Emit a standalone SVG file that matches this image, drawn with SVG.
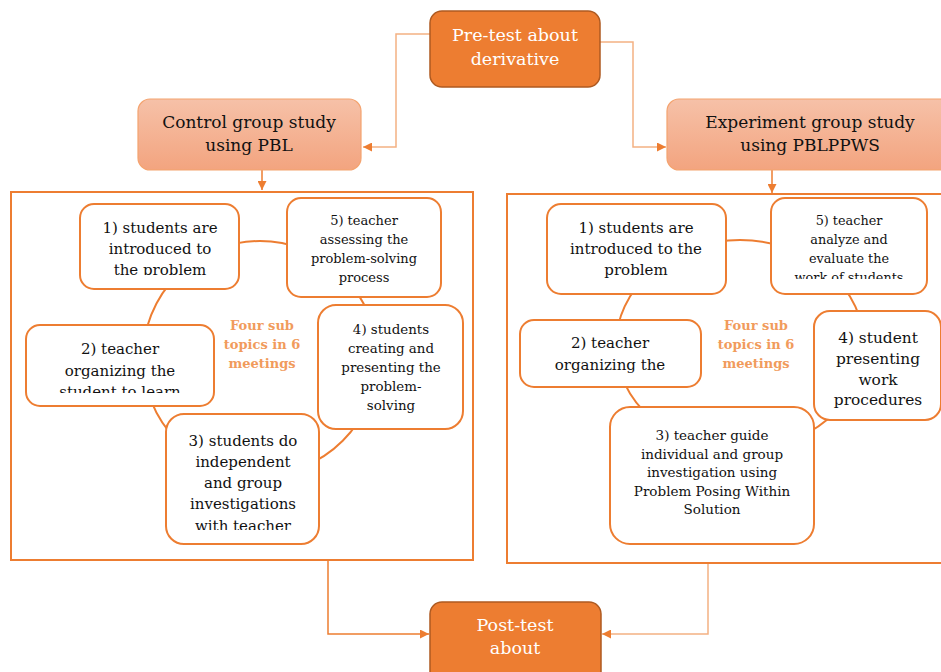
<svg xmlns="http://www.w3.org/2000/svg" width="941" height="672" viewBox="0 0 941 672">
<defs>
<style>
.t{font-family:"DejaVu Serif","Liberation Serif",serif;text-anchor:middle;fill:#111}
.w{fill:#fff}
.sub{fill:#fff;stroke:#ED7D31;stroke-width:2}
.frame{fill:none;stroke:#ED7D31;stroke-width:2}
.ring{fill:none;stroke:#ED7D31;stroke-width:2}
.conn{fill:none;stroke:#F4B183;stroke-width:1.5}
.conn2{fill:none;stroke:#ED7D31;stroke-width:1.5}
.dark{fill:#ED7D31;stroke:#AE5A21;stroke-width:1.5}
.light{fill:url(#g);stroke:#F4A36F;stroke-width:1.2}
.ctr{font-family:"DejaVu Serif","Liberation Serif",serif;text-anchor:middle;fill:#F19B5C;font-weight:bold;font-size:13px}
</style>
<linearGradient id="g" x1="0" y1="0" x2="0" y2="1">
<stop offset="0" stop-color="#F6C1A8"/>
<stop offset="1" stop-color="#F3A47F"/>
</linearGradient>
<marker id="b" viewBox="0 0 10 10" refX="10" refY="5" markerWidth="6" markerHeight="6" markerUnits="strokeWidth" orient="auto">
<path d="M0,0L10,5L0,10z" fill="#ED7D31"/>
</marker>
<clipPath id="c1"><rect x="80" y="204" width="160" height="71"/></clipPath>
<clipPath id="c2"><rect x="26" y="325" width="188" height="68"/></clipPath>
<clipPath id="c3"><rect x="166" y="414" width="154" height="116"/></clipPath>
<clipPath id="c4"><rect x="771" y="198" width="156" height="81"/></clipPath>
</defs>

<g id="connectors">
<path class="conn" d="M430,34H396V147H363" marker-end="url(#b)"/>
<path class="conn" d="M600,42H633V147H666" marker-end="url(#b)"/>
<path class="conn2" d="M262,170V190" marker-end="url(#b)"/>
<path class="conn2" d="M772,170V193" marker-end="url(#b)"/>
<path class="conn2" d="M328,561V634H429" marker-end="url(#b)"/>
<path class="conn" d="M708,564V634H602" marker-end="url(#b)"/>
</g>

<g id="pretest">
<rect class="dark" x="430" y="11" width="170" height="76" rx="12"/>
<text class="t w" font-size="17.5" x="515" y="41">Pre-test about</text>
<text class="t w" font-size="17.5" x="515" y="65">derivative</text>
</g>

<g id="control">
<rect class="light" x="138" y="99" width="223" height="71" rx="12"/>
<text class="t" font-size="17" x="249" y="128">Control group study</text>
<text class="t" font-size="17" x="249" y="151">using PBL</text>
</g>

<g id="experiment">
<rect class="light" x="667" y="99" width="290" height="71" rx="12"/>
<text class="t" font-size="17" x="810" y="128">Experiment group study</text>
<text class="t" font-size="17" x="810" y="151">using PBLPPWS</text>
</g>

<g id="control-frame">
<rect class="frame" x="11" y="192" width="462" height="368"/>
<circle class="ring" cx="260" cy="358" r="117"/>
<text class="ctr" x="262" y="330">Four sub</text>
<text class="ctr" x="262" y="349">topics in 6</text>
<text class="ctr" x="262" y="368">meetings</text>
</g>

<g id="c-step1">
<rect class="sub" x="80" y="204" width="159" height="85" rx="14"/>
<g clip-path="url(#c1)">
<text class="t" font-size="15" x="160" y="233">1) students are</text>
<text class="t" font-size="15" x="160" y="254">introduced to</text>
<text class="t" font-size="15" x="160" y="275">the problem</text>
</g>
</g>
<g id="c-step5">
<rect class="sub" x="287" y="198" width="154" height="99" rx="14"/>
<text class="t" font-size="13" x="364" y="225">5) teacher</text>
<text class="t" font-size="13" x="364" y="244">assessing the</text>
<text class="t" font-size="13" x="364" y="263">problem-solving</text>
<text class="t" font-size="13" x="364" y="282">process</text>
</g>
<g id="c-step2">
<rect class="sub" x="26" y="325" width="188" height="81" rx="14"/>
<g clip-path="url(#c2)">
<text class="t" font-size="15" x="120" y="354">2) teacher</text>
<text class="t" font-size="15" x="120" y="376">organizing the</text>
<text class="t" font-size="15" x="120" y="397">student to learn</text>
</g>
</g>
<g id="c-step4">
<rect class="sub" x="318" y="305" width="145" height="124" rx="18"/>
<text class="t" font-size="13.4" x="391" y="334">4) students</text>
<text class="t" font-size="13.4" x="391" y="353">creating and</text>
<text class="t" font-size="13.4" x="391" y="372">presenting the</text>
<text class="t" font-size="13.4" x="391" y="391">problem-</text>
<text class="t" font-size="13.4" x="391" y="410">solving</text>
</g>
<g id="c-step3">
<rect class="sub" x="166" y="414" width="153" height="130" rx="18"/>
<g clip-path="url(#c3)">
<text class="t" font-size="15" x="243" y="446">3) students do</text>
<text class="t" font-size="15" x="243" y="467">independent</text>
<text class="t" font-size="15" x="243" y="488">and group</text>
<text class="t" font-size="15" x="243" y="509">investigations</text>
<text class="t" font-size="15" x="243" y="531">with teacher</text>
</g>
</g>

<g id="experiment-frame">
<rect class="frame" x="507" y="194" width="450" height="369"/>
<ellipse class="ring" cx="740" cy="345" rx="124" ry="105"/>
<text class="ctr" x="756" y="330">Four sub</text>
<text class="ctr" x="756" y="349">topics in 6</text>
<text class="ctr" x="756" y="368">meetings</text>
</g>

<g id="e-step1">
<rect class="sub" x="547" y="204" width="179" height="90" rx="14"/>
<text class="t" font-size="15" x="636" y="233">1) students are</text>
<text class="t" font-size="15" x="636" y="254">introduced to the</text>
<text class="t" font-size="15" x="636" y="275">problem</text>
</g>
<g id="e-step5">
<rect class="sub" x="771" y="198" width="156" height="96" rx="14"/>
<g clip-path="url(#c4)">
<text class="t" font-size="12.8" x="849" y="225">5) teacher</text>
<text class="t" font-size="12.8" x="849" y="244">analyze and</text>
<text class="t" font-size="12.8" x="849" y="263">evaluate the</text>
<text class="t" font-size="12.8" x="849" y="282">work of students</text>
</g>
</g>
<g id="e-step2">
<rect class="sub" x="520" y="320" width="181" height="67" rx="14"/>
<text class="t" font-size="15" x="610" y="348">2) teacher</text>
<text class="t" font-size="15" x="610" y="370">organizing the</text>
</g>
<g id="e-step4">
<rect class="sub" x="814" y="311" width="127" height="109" rx="16"/>
<text class="t" font-size="15.4" x="878" y="343">4) student</text>
<text class="t" font-size="15.4" x="878" y="364">presenting</text>
<text class="t" font-size="15.4" x="878" y="385">work</text>
<text class="t" font-size="15.4" x="878" y="405">procedures</text>
</g>
<g id="e-step3">
<rect class="sub" x="610" y="407" width="204" height="137" rx="20"/>
<text class="t" font-size="13.5" x="712" y="440">3) teacher guide</text>
<text class="t" font-size="13.5" x="712" y="459">individual and group</text>
<text class="t" font-size="13.5" x="712" y="477">investigation using</text>
<text class="t" font-size="13.5" x="712" y="496">Problem Posing Within</text>
<text class="t" font-size="13.5" x="712" y="514">Solution</text>
</g>

<g id="posttest">
<rect class="dark" x="430" y="602" width="171" height="85" rx="12"/>
<text class="t w" font-size="17.5" x="515" y="631">Post-test</text>
<text class="t w" font-size="17.5" x="515" y="654">about</text>
</g>
</svg>
